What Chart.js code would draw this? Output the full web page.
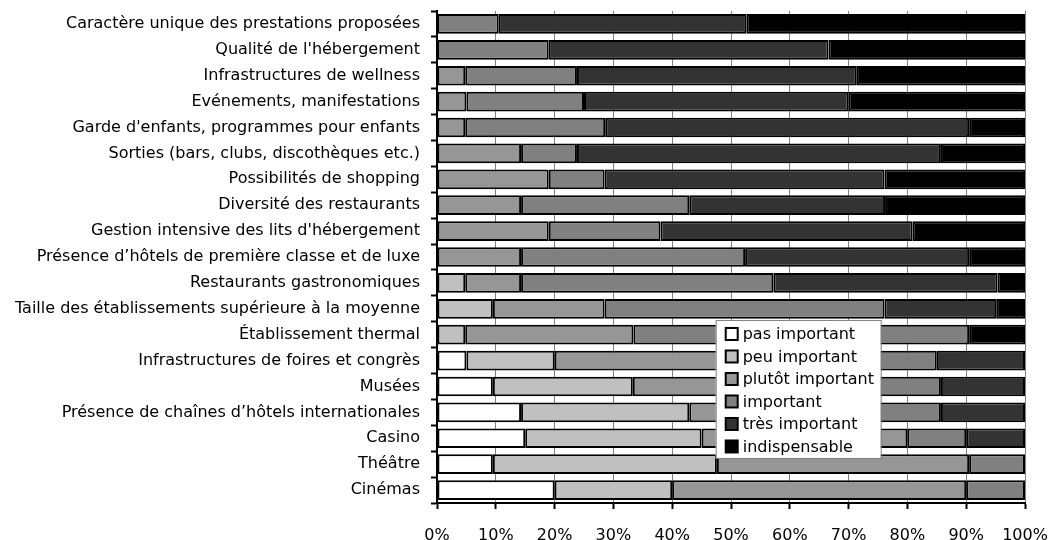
<!DOCTYPE html>
<html>
<head>
<meta charset="utf-8">
<script src="https://cdn.jsdelivr.net/npm/chart.js@4"></script>
<style>
  html, body { margin: 0; padding: 0; background: #fff; }
  #wrap { width: 1051px; height: 540px; }
</style>
</head>
<body>
<div id="wrap"><canvas id="importanceChart" width="1051" height="540"></canvas></div>
<script>
const categories = [
  "Caractère unique des prestations proposées",
  "Qualité de l'hébergement",
  "Infrastructures de wellness",
  "Evénements, manifestations",
  "Garde d'enfants, programmes pour enfants",
  "Sorties (bars, clubs, discothèques etc.)",
  "Possibilités de shopping",
  "Diversité des restaurants",
  "Gestion intensive des lits d'hébergement",
  "Présence d’hôtels de première classe et de luxe",
  "Restaurants gastronomiques",
  "Taille des établissements supérieure à la moyenne",
  "Établissement thermal",
  "Infrastructures de foires et congrès",
  "Musées",
  "Présence de chaînes d’hôtels internationales",
  "Casino",
  "Théâtre",
  "Cinémas"
];

// shares in %, one value per category (same order as above)
const pasImportant     = [0, 0, 0, 0, 0, 0, 0, 0, 0, 0, 0, 0, 0, 5, 9.5, 14.3, 15, 9.5, 20];
const peuImportant     = [0, 0, 0, 0, 0, 0, 0, 0, 0, 0, 4.8, 9.5, 4.8, 15, 23.8, 28.6, 30, 38.1, 20];
const plutotImportant  = [0, 0, 4.8, 5, 4.8, 14.3, 19, 14.3, 19, 14.3, 9.5, 19, 28.6, 35, 28.6, 23.8, 35, 42.9, 50];
const important        = [10.5, 19, 19, 20, 23.8, 9.5, 9.5, 28.6, 19, 38.1, 42.9, 47.6, 57.1, 30, 23.8, 19, 10, 9.5, 10];
const tresImportant    = [42.1, 47.6, 47.6, 45, 61.9, 61.9, 47.6, 33.3, 42.9, 38.1, 38.1, 19, 0, 15, 14.3, 14.3, 10, 0, 0];
const indispensable    = [47.4, 33.4, 28.6, 30, 9.5, 14.3, 23.9, 23.8, 19.1, 9.5, 4.7, 4.9, 9.5, 0, 0, 0, 0, 0, 0];

const seriesLabels = ["pas important", "peu important", "plutôt important", "important", "très important", "indispensable"];
const seriesColors = ["#ffffff", "#c0c0c0", "#969696", "#808080", "#333333", "#000000"];
const xTicks = [0, 10, 20, 30, 40, 50, 60, 70, 80, 90, 100];

const FONT = "'DejaVu Sans', Verdana, sans-serif";

const seriesValues = [pasImportant, peuImportant, plutotImportant, important, tresImportant, indispensable];

const datasets = seriesLabels.map((label, i) => ({
  label: label,
  data: seriesValues[i],
  backgroundColor: seriesColors[i],
  borderColor: "#000",
  borderWidth: 2,
  borderSkipped: false,
  categoryPercentage: 1,
  barPercentage: 0.76
}));

// legend box drawn inside the plot area, like the original
const boxLegend = {
  id: "boxLegend",
  afterDraw(chart) {
    const ctx = chart.ctx;
    const area = chart.chartArea;
    const x = area.left + (area.right - area.left) * 0.474;
    const y = area.top + (area.bottom - area.top) * 0.628;
    const w = 165, h = 138;
    ctx.save();
    ctx.fillStyle = "#fff";
    ctx.fillRect(x, y, w, h);
    ctx.strokeStyle = "#808080";
    ctx.lineWidth = 1;
    ctx.strokeRect(x + 0.5, y + 0.5, w, h);
    ctx.font = "16px " + FONT;
    ctx.textBaseline = "middle";
    chart.data.datasets.forEach((ds, i) => {
      const cy = y + 14 + i * 22.5;
      ctx.fillStyle = ds.backgroundColor;
      ctx.fillRect(x + 10, cy - 6, 12, 12);
      ctx.strokeStyle = "#000";
      ctx.lineWidth = 2;
      ctx.strokeRect(x + 10, cy - 6, 12, 12);
      ctx.fillStyle = "#000";
      ctx.fillText(ds.label, x + 27, cy + 1);
    });
    ctx.restore();
  }
};

const ctx = document.getElementById("importanceChart").getContext("2d");

new Chart(ctx, {
  type: "bar",
  data: {
    labels: categories,
    datasets: datasets
  },
  options: {
    indexAxis: "y",
    responsive: false,
    animation: false,
    layout: {
      padding: { top: 11, right: 26, bottom: 0, left: 0 }
    },
    plugins: {
      legend: { display: false },
      tooltip: { enabled: false }
    },
    scales: {
      x: {
        stacked: true,
        min: 0,
        max: 100,
        afterBuildTicks: axis => {
          axis.ticks = xTicks.map(v => ({ value: v }));
        },
        afterFit: axis => {
          axis.height = 37;
          axis.paddingLeft = 0;
          axis.paddingRight = 0;
        },
        grid: {
          color: "#808080",
          lineWidth: 1,
          tickColor: "#000",
          tickLength: 6,
          tickWidth: 2
        },
        border: { color: "#000", width: 2 },
        ticks: {
          color: "#000",
          font: { family: FONT, size: 16 },
          padding: 17,
          callback: v => v + "%"
        }
      },
      y: {
        stacked: true,
        afterFit: axis => {
          axis.width = 437;
          axis.paddingTop = 0;
          axis.paddingBottom = 0;
        },
        grid: {
          drawOnChartArea: false,
          tickColor: "#000",
          tickLength: 6,
          tickWidth: 2
        },
        border: { color: "#000", width: 2 },
        ticks: {
          color: "#000",
          font: { family: FONT, size: 16 },
          padding: 11,
          autoSkip: false
        }
      }
    }
  },
  plugins: [boxLegend]
});
</script>
</body>
</html>
